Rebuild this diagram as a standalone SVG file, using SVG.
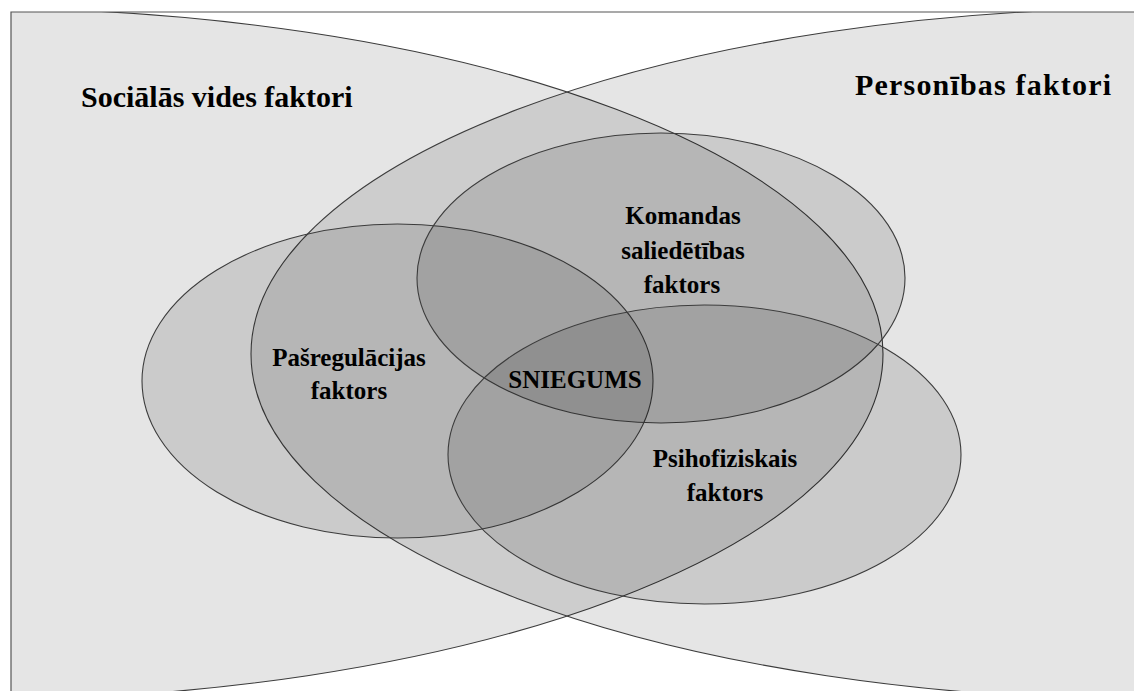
<svg xmlns="http://www.w3.org/2000/svg" width="1134" height="691" viewBox="0 0 1134 691">
  <style>
    .big { fill: #000; fill-opacity: 0.1; stroke: #3c3c3c; stroke-width: 1.1; }
    .inner { fill: #000; fill-opacity: 0.11; stroke: #3c3c3c; stroke-width: 1.1; }
    .frame { fill: none; stroke: #555; stroke-width: 1.2; }
    .lbl { font-family: 'Liberation Serif', serif; font-weight: 700; fill: #000; }
    .lbl-big { font-size: 30px; }
    .lbl-in { font-size: 25px; text-anchor: middle; }
  </style>
  <defs>
    <clipPath id="frameClip">
      <rect x="11" y="12" width="1130" height="690"/>
    </clipPath>
  </defs>
  <rect x="0" y="0" width="1134" height="691" fill="#fff"/>
  <g clip-path="url(#frameClip)">
    <g id="node-social">
      <ellipse class="big" cx="-28" cy="354" rx="911" ry="346"/>
    </g>
    <g id="node-personal">
      <ellipse class="big" cx="1162" cy="354" rx="911" ry="346"/>
    </g>
    <g id="node-pasregulacija">
      <ellipse class="inner" cx="397.5" cy="381" rx="255.5" ry="157"/>
    </g>
    <g id="node-komanda">
      <ellipse class="inner" cx="661" cy="278" rx="244" ry="145"/>
    </g>
    <g id="node-psihofiz">
      <ellipse class="inner" cx="704.5" cy="454.5" rx="256.5" ry="149.5"/>
    </g>
  </g>
  <g id="frame">
    <polyline class="frame" points="11,691 11,12 1134,12"/>
  </g>
  <g id="connectors"></g>
  <g id="labels">
    <text class="lbl lbl-big" x="81" y="107">Sociālās vides faktori</text>
    <text class="lbl lbl-big" x="855" y="95" textLength="256" lengthAdjust="spacing">Personības faktori</text>
    <text class="lbl lbl-in" x="683" y="224">Komandas</text>
    <text class="lbl lbl-in" x="683" y="259">saliedētības</text>
    <text class="lbl lbl-in" x="682" y="293">faktors</text>
    <text class="lbl lbl-in" x="349" y="366">Pašregulācijas</text>
    <text class="lbl lbl-in" x="349" y="399">faktors</text>
    <text class="lbl lbl-in" x="575" y="388">SNIEGUMS</text>
    <text class="lbl lbl-in" x="725" y="467">Psihofiziskais</text>
    <text class="lbl lbl-in" x="725" y="501">faktors</text>
  </g>
</svg>
